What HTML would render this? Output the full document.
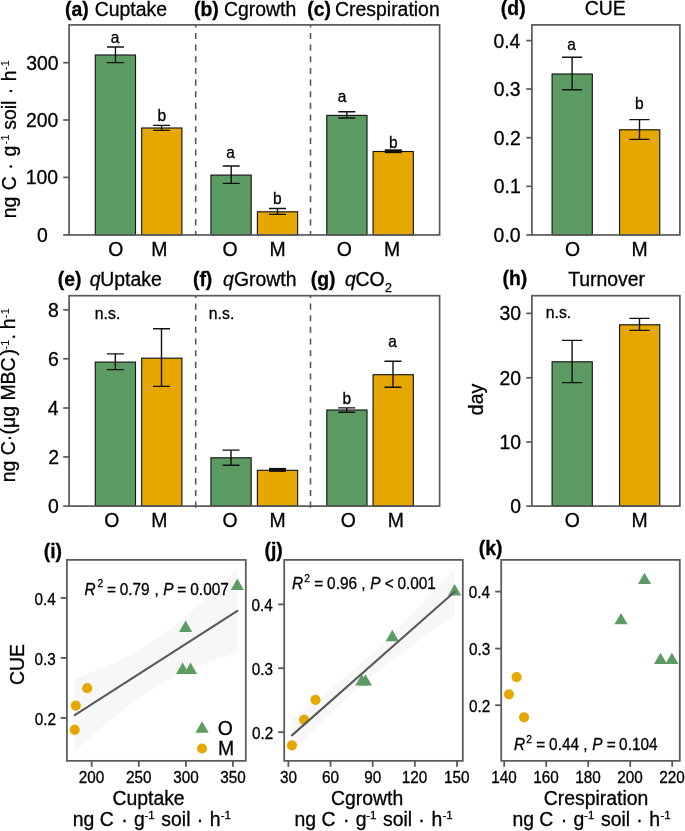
<!DOCTYPE html>
<html><head><meta charset="utf-8"><title>Figure</title><style>
html,body{margin:0;padding:0;background:#fff;width:685px;height:831px;overflow:hidden}
svg{display:block;will-change:transform}
text{font-family:"Liberation Sans",sans-serif}
</style></head><body>
<svg width="685" height="831" viewBox="0 0 685 831">
<rect width="685" height="831" fill="#fff"/>
<rect x="95.30" y="55.00" width="40.20" height="179.95" fill="#5c9c63" stroke="#151515" stroke-width="1.15"/>
<rect x="141.70" y="128.00" width="40.20" height="106.95" fill="#e6a800" stroke="#151515" stroke-width="1.15"/>
<rect x="210.95" y="175.10" width="40.20" height="59.85" fill="#5c9c63" stroke="#151515" stroke-width="1.15"/>
<rect x="257.40" y="211.80" width="40.20" height="23.15" fill="#e6a800" stroke="#151515" stroke-width="1.15"/>
<rect x="326.80" y="115.40" width="40.20" height="119.55" fill="#5c9c63" stroke="#151515" stroke-width="1.15"/>
<rect x="373.10" y="151.50" width="40.20" height="83.45" fill="#e6a800" stroke="#151515" stroke-width="1.15"/>
<path d="M106.95,47.00H123.95M115.45,47.00V62.60M106.95,62.60H123.95" stroke="#111" stroke-width="1.4" fill="none"/>
<path d="M153.10,125.40H170.10M161.60,125.40V130.40M153.10,130.40H170.10" stroke="#111" stroke-width="1.4" fill="none"/>
<path d="M222.70,166.00H239.70M231.20,166.00V183.40M222.70,183.40H239.70" stroke="#111" stroke-width="1.4" fill="none"/>
<path d="M269.00,208.50H286.00M277.50,208.50V214.40M269.00,214.40H286.00" stroke="#111" stroke-width="1.4" fill="none"/>
<path d="M338.30,111.80H355.30M346.80,111.80V118.00M338.30,118.00H355.30" stroke="#111" stroke-width="1.4" fill="none"/>
<rect x="384.80" y="149.30" width="17.00" height="3.90" fill="#111"/>
<line x1="195.70" y1="24.90" x2="195.70" y2="234.95" stroke="#595959" stroke-width="1.6" stroke-dasharray="6.1,5.55" stroke-dashoffset="3.60"/>
<line x1="310.50" y1="24.90" x2="310.50" y2="234.95" stroke="#595959" stroke-width="1.6" stroke-dasharray="6.1,5.55" stroke-dashoffset="3.60"/>
<rect x="69.10" y="24.90" width="370.50" height="210.05" fill="none" stroke="#595959" stroke-width="1.7"/>
<line x1="63.20" y1="234.95" x2="69.10" y2="234.95" stroke="#595959" stroke-width="1.7" />
<text transform="translate(36.91,241.95) scale(1,1.03)" font-size="19.4" font-weight="normal" font-style="normal" fill="#000" stroke="#000" stroke-width="0.3">0</text>
<line x1="63.20" y1="177.40" x2="69.10" y2="177.40" stroke="#595959" stroke-width="1.7" />
<text transform="translate(25.76,184.40) scale(1,1.03)" font-size="19.4" font-weight="normal" font-style="normal" fill="#000" stroke="#000" stroke-width="0.3">100</text>
<line x1="63.20" y1="120.00" x2="69.10" y2="120.00" stroke="#595959" stroke-width="1.7" />
<text transform="translate(26.01,127.00) scale(1,1.03)" font-size="19.4" font-weight="normal" font-style="normal" fill="#000" stroke="#000" stroke-width="0.3">200</text>
<line x1="63.20" y1="62.70" x2="69.10" y2="62.70" stroke="#595959" stroke-width="1.7" />
<text transform="translate(26.13,69.70) scale(1,1.03)" font-size="19.4" font-weight="normal" font-style="normal" fill="#000" stroke="#000" stroke-width="0.3">300</text>
<text transform="translate(110.76,42.50) scale(1,1.03)" font-size="15.5" font-weight="normal" font-style="normal" fill="#000" stroke="#000" stroke-width="0.3">a</text>
<text transform="translate(157.52,120.80) scale(1,1.03)" font-size="15.5" font-weight="normal" font-style="normal" fill="#000" stroke="#000" stroke-width="0.3">b</text>
<text transform="translate(226.26,158.00) scale(1,1.03)" font-size="15.5" font-weight="normal" font-style="normal" fill="#000" stroke="#000" stroke-width="0.3">a</text>
<text transform="translate(273.12,204.40) scale(1,1.03)" font-size="15.5" font-weight="normal" font-style="normal" fill="#000" stroke="#000" stroke-width="0.3">b</text>
<text transform="translate(337.76,101.70) scale(1,1.03)" font-size="15.5" font-weight="normal" font-style="normal" fill="#000" stroke="#000" stroke-width="0.3">a</text>
<text transform="translate(389.02,147.80) scale(1,1.03)" font-size="15.5" font-weight="normal" font-style="normal" fill="#000" stroke="#000" stroke-width="0.3">b</text>
<text transform="translate(108.26,255.80) scale(1,1.03)" font-size="19.4" font-weight="normal" font-style="normal" fill="#000" stroke="#000" stroke-width="0.3">O</text>
<text transform="translate(151.22,255.80) scale(1,1.03)" font-size="19.4" font-weight="normal" font-style="normal" fill="#000" stroke="#000" stroke-width="0.3">M</text>
<text transform="translate(222.46,255.80) scale(1,1.03)" font-size="19.4" font-weight="normal" font-style="normal" fill="#000" stroke="#000" stroke-width="0.3">O</text>
<text transform="translate(269.42,255.80) scale(1,1.03)" font-size="19.4" font-weight="normal" font-style="normal" fill="#000" stroke="#000" stroke-width="0.3">M</text>
<text transform="translate(336.76,255.80) scale(1,1.03)" font-size="19.4" font-weight="normal" font-style="normal" fill="#000" stroke="#000" stroke-width="0.3">O</text>
<text transform="translate(384.02,255.80) scale(1,1.03)" font-size="19.4" font-weight="normal" font-style="normal" fill="#000" stroke="#000" stroke-width="0.3">M</text>
<text transform="translate(64.93,16.00) scale(1,1.03)" font-size="19.4" font-weight="bold" font-style="normal" fill="#000" stroke="#000" stroke-width="0.3">(a)</text>
<text transform="translate(94.71,16.00) scale(1,1.03)" font-size="19.4" font-weight="normal" font-style="normal" fill="#000" stroke="#000" stroke-width="0.3">Cuptake</text>
<text transform="translate(193.93,16.00) scale(1,1.03)" font-size="19.4" font-weight="bold" font-style="normal" fill="#000" stroke="#000" stroke-width="0.3">(b)</text>
<text transform="translate(224.01,16.00) scale(1,1.03)" font-size="19.4" font-weight="normal" font-style="normal" fill="#000" stroke="#000" stroke-width="0.3">Cgrowth</text>
<text transform="translate(307.33,16.00) scale(1,1.03)" font-size="19.4" font-weight="bold" font-style="normal" fill="#000" stroke="#000" stroke-width="0.3">(c)</text>
<text transform="translate(335.11,16.00) scale(1,1.03)" font-size="19.4" font-weight="normal" font-style="normal" fill="#000" stroke="#000" stroke-width="0.3">Crespiration</text>
<rect x="552.10" y="74.00" width="40.20" height="160.95" fill="#5c9c63" stroke="#151515" stroke-width="1.15"/>
<rect x="619.55" y="129.80" width="40.20" height="105.15" fill="#e6a800" stroke="#151515" stroke-width="1.15"/>
<path d="M562.00,57.20H582.20M572.10,57.20V89.70M562.00,89.70H582.20" stroke="#111" stroke-width="1.4" fill="none"/>
<path d="M629.40,119.60H649.60M639.50,119.60V139.40M629.40,139.40H649.60" stroke="#111" stroke-width="1.4" fill="none"/>
<rect x="531.90" y="24.90" width="148.00" height="210.05" fill="none" stroke="#595959" stroke-width="1.7"/>
<line x1="526.30" y1="234.95" x2="531.90" y2="234.95" stroke="#595959" stroke-width="1.7" />
<text transform="translate(493.59,241.95) scale(1,1.03)" font-size="19.4" font-weight="normal" font-style="normal" fill="#000" stroke="#000" stroke-width="0.3">0.0</text>
<line x1="526.30" y1="186.30" x2="531.90" y2="186.30" stroke="#595959" stroke-width="1.7" />
<text transform="translate(493.78,193.30) scale(1,1.03)" font-size="19.4" font-weight="normal" font-style="normal" fill="#000" stroke="#000" stroke-width="0.3">0.1</text>
<line x1="526.30" y1="137.70" x2="531.90" y2="137.70" stroke="#595959" stroke-width="1.7" />
<text transform="translate(493.81,144.70) scale(1,1.03)" font-size="19.4" font-weight="normal" font-style="normal" fill="#000" stroke="#000" stroke-width="0.3">0.2</text>
<line x1="526.30" y1="89.00" x2="531.90" y2="89.00" stroke="#595959" stroke-width="1.7" />
<text transform="translate(493.68,96.00) scale(1,1.03)" font-size="19.4" font-weight="normal" font-style="normal" fill="#000" stroke="#000" stroke-width="0.3">0.3</text>
<line x1="526.30" y1="40.60" x2="531.90" y2="40.60" stroke="#595959" stroke-width="1.7" />
<text transform="translate(493.40,47.60) scale(1,1.03)" font-size="19.4" font-weight="normal" font-style="normal" fill="#000" stroke="#000" stroke-width="0.3">0.4</text>
<text transform="translate(567.36,50.20) scale(1,1.03)" font-size="15.5" font-weight="normal" font-style="normal" fill="#000" stroke="#000" stroke-width="0.3">a</text>
<text transform="translate(635.02,108.60) scale(1,1.03)" font-size="15.5" font-weight="normal" font-style="normal" fill="#000" stroke="#000" stroke-width="0.3">b</text>
<text transform="translate(564.96,255.60) scale(1,1.03)" font-size="19.4" font-weight="normal" font-style="normal" fill="#000" stroke="#000" stroke-width="0.3">O</text>
<text transform="translate(631.42,255.60) scale(1,1.03)" font-size="19.4" font-weight="normal" font-style="normal" fill="#000" stroke="#000" stroke-width="0.3">M</text>
<text transform="translate(500.83,14.60) scale(1,1.03)" font-size="19.4" font-weight="bold" font-style="normal" fill="#000" stroke="#000" stroke-width="0.3">(d)</text>
<text transform="translate(584.81,14.90) scale(1,1.03)" font-size="19.4" font-weight="normal" font-style="normal" fill="#000" stroke="#000" stroke-width="0.3">CUE</text>
<rect x="95.30" y="362.10" width="40.20" height="144.00" fill="#5c9c63" stroke="#151515" stroke-width="1.15"/>
<rect x="141.70" y="358.20" width="40.20" height="147.90" fill="#e6a800" stroke="#151515" stroke-width="1.15"/>
<rect x="210.95" y="457.80" width="40.20" height="48.30" fill="#5c9c63" stroke="#151515" stroke-width="1.15"/>
<rect x="257.40" y="470.30" width="40.20" height="35.80" fill="#e6a800" stroke="#151515" stroke-width="1.15"/>
<rect x="326.80" y="410.00" width="40.20" height="96.10" fill="#5c9c63" stroke="#151515" stroke-width="1.15"/>
<rect x="373.10" y="374.70" width="40.20" height="131.40" fill="#e6a800" stroke="#151515" stroke-width="1.15"/>
<path d="M106.85,353.90H123.85M115.35,353.90V369.60M106.85,369.60H123.85" stroke="#111" stroke-width="1.4" fill="none"/>
<path d="M153.00,328.80H170.00M161.50,328.80V386.40M153.00,386.40H170.00" stroke="#111" stroke-width="1.4" fill="none"/>
<path d="M222.50,450.10H239.50M231.00,450.10V465.20M222.50,465.20H239.50" stroke="#111" stroke-width="1.4" fill="none"/>
<rect x="269.00" y="467.90" width="17.00" height="4.00" fill="#111"/>
<path d="M338.20,407.90H355.20M346.70,407.90V412.20M338.20,412.20H355.20" stroke="#111" stroke-width="1.4" fill="none"/>
<path d="M384.50,361.30H401.50M393.00,361.30V387.30M384.50,387.30H401.50" stroke="#111" stroke-width="1.4" fill="none"/>
<line x1="195.70" y1="295.70" x2="195.70" y2="508.70" stroke="#595959" stroke-width="1.6" stroke-dasharray="6.1,5.55" stroke-dashoffset="3.80"/>
<line x1="310.50" y1="295.70" x2="310.50" y2="508.70" stroke="#595959" stroke-width="1.6" stroke-dasharray="6.1,5.55" stroke-dashoffset="3.80"/>
<rect x="69.10" y="295.70" width="370.50" height="210.40" fill="none" stroke="#595959" stroke-width="1.7"/>
<line x1="63.20" y1="506.10" x2="69.10" y2="506.10" stroke="#595959" stroke-width="1.7" />
<text transform="translate(47.97,513.40) scale(1,1.03)" font-size="19.4" font-weight="normal" font-style="normal" fill="#000" stroke="#000" stroke-width="0.3">0</text>
<line x1="63.20" y1="456.90" x2="69.10" y2="456.90" stroke="#595959" stroke-width="1.7" />
<text transform="translate(48.19,464.20) scale(1,1.03)" font-size="19.4" font-weight="normal" font-style="normal" fill="#000" stroke="#000" stroke-width="0.3">2</text>
<line x1="63.20" y1="408.00" x2="69.10" y2="408.00" stroke="#595959" stroke-width="1.7" />
<text transform="translate(47.78,415.30) scale(1,1.03)" font-size="19.4" font-weight="normal" font-style="normal" fill="#000" stroke="#000" stroke-width="0.3">4</text>
<line x1="63.20" y1="358.80" x2="69.10" y2="358.80" stroke="#595959" stroke-width="1.7" />
<text transform="translate(48.06,366.10) scale(1,1.03)" font-size="19.4" font-weight="normal" font-style="normal" fill="#000" stroke="#000" stroke-width="0.3">6</text>
<line x1="63.20" y1="309.90" x2="69.10" y2="309.90" stroke="#595959" stroke-width="1.7" />
<text transform="translate(48.05,317.20) scale(1,1.03)" font-size="19.4" font-weight="normal" font-style="normal" fill="#000" stroke="#000" stroke-width="0.3">8</text>
<text transform="translate(342.62,403.80) scale(1,1.03)" font-size="15.5" font-weight="normal" font-style="normal" fill="#000" stroke="#000" stroke-width="0.3">b</text>
<text transform="translate(388.36,347.10) scale(1,1.03)" font-size="15.5" font-weight="normal" font-style="normal" fill="#000" stroke="#000" stroke-width="0.3">a</text>
<text transform="translate(94.85,318.70) scale(1,1.03)" font-size="15.8" font-weight="normal" font-style="normal" fill="#000" stroke="#000" stroke-width="0.3">n.s.</text>
<text transform="translate(208.85,318.60) scale(1,1.03)" font-size="15.8" font-weight="normal" font-style="normal" fill="#000" stroke="#000" stroke-width="0.3">n.s.</text>
<text transform="translate(104.26,526.70) scale(1,1.03)" font-size="19.4" font-weight="normal" font-style="normal" fill="#000" stroke="#000" stroke-width="0.3">O</text>
<text transform="translate(151.32,526.70) scale(1,1.03)" font-size="19.4" font-weight="normal" font-style="normal" fill="#000" stroke="#000" stroke-width="0.3">M</text>
<text transform="translate(222.46,526.70) scale(1,1.03)" font-size="19.4" font-weight="normal" font-style="normal" fill="#000" stroke="#000" stroke-width="0.3">O</text>
<text transform="translate(269.52,526.70) scale(1,1.03)" font-size="19.4" font-weight="normal" font-style="normal" fill="#000" stroke="#000" stroke-width="0.3">M</text>
<text transform="translate(340.76,526.70) scale(1,1.03)" font-size="19.4" font-weight="normal" font-style="normal" fill="#000" stroke="#000" stroke-width="0.3">O</text>
<text transform="translate(387.82,526.70) scale(1,1.03)" font-size="19.4" font-weight="normal" font-style="normal" fill="#000" stroke="#000" stroke-width="0.3">M</text>
<text transform="translate(57.73,286.20) scale(1,1.03)" font-size="19.4" font-weight="bold" font-style="normal" fill="#000" stroke="#000" stroke-width="0.3">(e)</text>
<text transform="translate(89.85,286.20) scale(1,1.03)" font-size="19.4" font-weight="normal" font-style="italic" fill="#000" stroke="#000" stroke-width="0.3">q</text>
<text transform="translate(100.30,286.20) scale(1,1.03)" font-size="19.4" font-weight="normal" font-style="normal" fill="#000" stroke="#000" stroke-width="0.3">Uptake</text>
<text transform="translate(192.93,286.20) scale(1,1.03)" font-size="19.4" font-weight="bold" font-style="normal" fill="#000" stroke="#000" stroke-width="0.3">(f)</text>
<text transform="translate(222.95,286.20) scale(1,1.03)" font-size="19.4" font-weight="normal" font-style="italic" fill="#000" stroke="#000" stroke-width="0.3">q</text>
<text transform="translate(234.02,286.20) scale(1,1.03)" font-size="19.4" font-weight="normal" font-style="normal" fill="#000" stroke="#000" stroke-width="0.3">Growth</text>
<text transform="translate(310.73,286.20) scale(1,1.03)" font-size="19.4" font-weight="bold" font-style="normal" fill="#000" stroke="#000" stroke-width="0.3">(g)</text>
<text transform="translate(344.95,286.20) scale(1,1.03)" font-size="19.4" font-weight="normal" font-style="italic" fill="#000" stroke="#000" stroke-width="0.3">q</text>
<text transform="translate(355.61,286.20) scale(1,1.03)" font-size="19.4" font-weight="normal" font-style="normal" fill="#000" stroke="#000" stroke-width="0.3">CO</text>
<text transform="translate(385.07,292.20) scale(1,1.03)" font-size="12.5" font-weight="normal" font-style="normal" fill="#000" stroke="#000" stroke-width="0.3">2</text>
<rect x="552.10" y="361.80" width="40.20" height="144.30" fill="#5c9c63" stroke="#151515" stroke-width="1.15"/>
<rect x="619.55" y="324.80" width="40.20" height="181.30" fill="#e6a800" stroke="#151515" stroke-width="1.15"/>
<path d="M562.00,340.40H582.20M572.10,340.40V382.60M562.00,382.60H582.20" stroke="#111" stroke-width="1.4" fill="none"/>
<path d="M629.40,318.40H649.60M639.50,318.40V330.40M629.40,330.40H649.60" stroke="#111" stroke-width="1.4" fill="none"/>
<rect x="531.90" y="295.70" width="148.00" height="210.40" fill="none" stroke="#595959" stroke-width="1.7"/>
<line x1="526.30" y1="506.10" x2="531.90" y2="506.10" stroke="#595959" stroke-width="1.7" />
<text transform="translate(510.27,513.10) scale(1,1.03)" font-size="19.4" font-weight="normal" font-style="normal" fill="#000" stroke="#000" stroke-width="0.3">0</text>
<line x1="526.30" y1="442.00" x2="531.90" y2="442.00" stroke="#595959" stroke-width="1.7" />
<text transform="translate(499.48,449.00) scale(1,1.03)" font-size="19.4" font-weight="normal" font-style="normal" fill="#000" stroke="#000" stroke-width="0.3">10</text>
<line x1="526.30" y1="377.80" x2="531.90" y2="377.80" stroke="#595959" stroke-width="1.7" />
<text transform="translate(499.48,384.80) scale(1,1.03)" font-size="19.4" font-weight="normal" font-style="normal" fill="#000" stroke="#000" stroke-width="0.3">20</text>
<line x1="526.30" y1="313.40" x2="531.90" y2="313.40" stroke="#595959" stroke-width="1.7" />
<text transform="translate(499.48,320.40) scale(1,1.03)" font-size="19.4" font-weight="normal" font-style="normal" fill="#000" stroke="#000" stroke-width="0.3">30</text>
<text transform="translate(545.75,317.80) scale(1,1.03)" font-size="15.8" font-weight="normal" font-style="normal" fill="#000" stroke="#000" stroke-width="0.3">n.s.</text>
<text transform="translate(564.76,526.70) scale(1,1.03)" font-size="19.4" font-weight="normal" font-style="normal" fill="#000" stroke="#000" stroke-width="0.3">O</text>
<text transform="translate(631.42,526.70) scale(1,1.03)" font-size="19.4" font-weight="normal" font-style="normal" fill="#000" stroke="#000" stroke-width="0.3">M</text>
<text transform="translate(502.53,284.80) scale(1,1.03)" font-size="19.4" font-weight="bold" font-style="normal" fill="#000" stroke="#000" stroke-width="0.3">(h)</text>
<text transform="translate(568.16,286.00) scale(1,1.03)" font-size="19.4" font-weight="normal" font-style="normal" fill="#000" stroke="#000" stroke-width="0.3">Turnover</text>
<text transform="translate(15.80,0) rotate(-90) translate(-218.29,0) scale(1,1.03)" font-size="19.4" font-weight="normal" font-style="normal" stroke="#000" stroke-width="0.3">ng</text>
<text transform="translate(15.80,0) rotate(-90) translate(-190.29,0) scale(1,1.03)" font-size="19.4" font-weight="normal" font-style="normal" stroke="#000" stroke-width="0.3">C</text>
<text transform="translate(15.80,0) rotate(-90) translate(-169.63,0) scale(1,1.03)" font-size="19.4" font-weight="normal" font-style="normal" stroke="#000" stroke-width="0.3">·</text>
<text transform="translate(15.80,0) rotate(-90) translate(-156.61,0) scale(1,1.03)" font-size="19.4" font-weight="normal" font-style="normal" stroke="#000" stroke-width="0.3">g</text>
<text transform="translate(9.20,0) rotate(-90)" font-size="11.5" x="-144.60">-1</text>
<text transform="translate(15.80,0) rotate(-90) translate(-129.74,0) scale(1,1.03)" font-size="19.4" font-weight="normal" font-style="normal" stroke="#000" stroke-width="0.3">soil</text>
<text transform="translate(15.80,0) rotate(-90) translate(-94.23,0) scale(1,1.03)" font-size="19.4" font-weight="normal" font-style="normal" stroke="#000" stroke-width="0.3">·</text>
<text transform="translate(15.80,0) rotate(-90) translate(-81.25,0) scale(1,1.03)" font-size="19.4" font-weight="normal" font-style="normal" stroke="#000" stroke-width="0.3">h</text>
<text transform="translate(9.20,0) rotate(-90)" font-size="11.5" x="-70.30">-1</text>
<text transform="translate(15.20,0) rotate(-90) translate(-482.29,0) scale(1,1.03)" font-size="19.4" font-weight="normal" font-style="normal" stroke="#000" stroke-width="0.3">ng C</text>
<text transform="translate(15.20,0) rotate(-90) translate(-441.13,0) scale(1,1.03)" font-size="19.4" font-weight="normal" font-style="normal" stroke="#000" stroke-width="0.3">·</text>
<text transform="translate(15.20,0) rotate(-90) translate(-434.40,0) scale(1,1.03)" font-size="19.4" font-weight="normal" font-style="normal" stroke="#000" stroke-width="0.3">(μg MBC</text>
<text transform="translate(15.20,0) rotate(-90) translate(-355.51,0) scale(1,1.03)" font-size="19.4" font-weight="normal" font-style="normal" stroke="#000" stroke-width="0.3">)</text>
<text transform="translate(8.60,0) rotate(-90)" font-size="11.5" x="-349.80">-1</text>
<text transform="translate(15.20,0) rotate(-90) translate(-339.59,0) scale(1,1.03)" font-size="19.4" font-weight="normal" font-style="normal" stroke="#000" stroke-width="0.3">.</text>
<text transform="translate(15.20,0) rotate(-90) translate(-329.25,0) scale(1,1.03)" font-size="19.4" font-weight="normal" font-style="normal" stroke="#000" stroke-width="0.3">h</text>
<text transform="translate(8.60,0) rotate(-90)" font-size="11.5" x="-318.30">-1</text>
<text transform="translate(483.40,0) rotate(-90) translate(-415.13,0) scale(1,1.03)" font-size="19.4" font-weight="normal" font-style="normal" stroke="#000" stroke-width="0.3">day</text>
<polygon points="74.70,678.55 78.87,677.08 83.04,675.57 87.22,674.03 91.39,672.45 95.56,670.83 99.73,669.16 103.90,667.44 108.07,665.65 112.25,663.81 116.42,661.89 120.59,659.90 124.76,657.82 128.93,655.65 133.11,653.39 137.28,651.03 141.45,648.57 145.62,646.00 149.79,643.33 153.96,640.54 158.14,637.65 162.31,634.66 166.48,631.56 170.65,628.38 174.82,625.10 178.99,621.74 183.17,618.31 187.34,614.80 191.51,611.23 195.68,607.60 199.85,603.92 204.03,600.19 208.20,596.42 212.37,592.61 216.54,588.76 220.71,584.88 224.88,580.97 229.06,577.03 233.23,573.07 237.40,569.09 237.40,652.47 233.23,653.84 229.06,655.24 224.88,656.65 220.71,658.10 216.54,659.57 212.37,661.07 208.20,662.61 204.03,664.19 199.85,665.81 195.68,667.48 191.51,669.20 187.34,670.99 183.17,672.83 178.99,674.75 174.82,676.74 170.65,678.82 166.48,680.98 162.31,683.24 158.14,685.60 153.96,688.06 149.79,690.63 145.62,693.30 141.45,696.09 137.28,698.98 133.11,701.97 128.93,705.06 124.76,708.25 120.59,711.52 116.42,714.88 112.25,718.32 108.07,721.82 103.90,725.39 99.73,729.02 95.56,732.70 91.39,736.43 87.22,740.20 83.04,744.01 78.87,747.86 74.70,751.74" fill="#f7f7f7"/>
<polygon points="237.40,578.50 243.98,589.90 230.82,589.90" fill="#5c9c63"/>
<polygon points="185.60,620.60 192.18,632.00 179.02,632.00" fill="#5c9c63"/>
<polygon points="182.60,662.60 189.18,674.00 176.02,674.00" fill="#5c9c63"/>
<polygon points="190.50,662.60 197.08,674.00 183.92,674.00" fill="#5c9c63"/>
<circle cx="87.20" cy="688.20" r="5.1" fill="#e6a800"/>
<circle cx="75.80" cy="705.60" r="5.1" fill="#e6a800"/>
<circle cx="74.70" cy="729.80" r="5.1" fill="#e6a800"/>
<line x1="74.70" y1="715.14" x2="237.40" y2="610.78" stroke="#5a5a5a" stroke-width="2.1" stroke-linecap="round"/>
<rect x="66.90" y="559.90" width="178.90" height="200.95" fill="none" stroke="#595959" stroke-width="1.75"/>
<line x1="60.70" y1="597.90" x2="66.90" y2="597.90" stroke="#595959" stroke-width="1.8" />
<text transform="translate(34.38,604.70) scale(1,1.03)" font-size="15.3" font-weight="normal" font-style="normal" fill="#000" stroke="#000" stroke-width="0.3">0.4</text>
<line x1="60.70" y1="657.90" x2="66.90" y2="657.90" stroke="#595959" stroke-width="1.8" />
<text transform="translate(34.60,664.70) scale(1,1.03)" font-size="15.3" font-weight="normal" font-style="normal" fill="#000" stroke="#000" stroke-width="0.3">0.3</text>
<line x1="60.70" y1="717.90" x2="66.90" y2="717.90" stroke="#595959" stroke-width="1.8" />
<text transform="translate(34.70,724.70) scale(1,1.03)" font-size="15.3" font-weight="normal" font-style="normal" fill="#000" stroke="#000" stroke-width="0.3">0.2</text>
<line x1="91.70" y1="760.85" x2="91.70" y2="766.80" stroke="#595959" stroke-width="1.8" />
<text transform="translate(78.85,782.70) scale(1,1.03)" font-size="15.3" font-weight="normal" font-style="normal" fill="#000" stroke="#000" stroke-width="0.3">200</text>
<line x1="138.80" y1="760.85" x2="138.80" y2="766.80" stroke="#595959" stroke-width="1.8" />
<text transform="translate(125.95,782.70) scale(1,1.03)" font-size="15.3" font-weight="normal" font-style="normal" fill="#000" stroke="#000" stroke-width="0.3">250</text>
<line x1="185.90" y1="760.85" x2="185.90" y2="766.80" stroke="#595959" stroke-width="1.8" />
<text transform="translate(173.14,782.70) scale(1,1.03)" font-size="15.3" font-weight="normal" font-style="normal" fill="#000" stroke="#000" stroke-width="0.3">300</text>
<line x1="232.90" y1="760.85" x2="232.90" y2="766.80" stroke="#595959" stroke-width="1.8" />
<text transform="translate(220.14,782.70) scale(1,1.03)" font-size="15.3" font-weight="normal" font-style="normal" fill="#000" stroke="#000" stroke-width="0.3">350</text>
<text transform="translate(84.53,594.60) scale(1,1.03)" font-size="15.4" font-weight="normal" font-style="italic" fill="#000" stroke="#000" stroke-width="0.3">R</text>
<text transform="translate(97.39,586.80) scale(1,1.0)" font-size="10.2" font-weight="normal" font-style="normal" fill="#000" stroke="#000" stroke-width="0.3">2</text>
<text transform="translate(107.05,594.60) scale(1,1.03)" font-size="15.4" font-weight="normal" font-style="normal" fill="#000" stroke="#000" stroke-width="0.3">=</text>
<text transform="translate(119.70,594.60) scale(1,1.03)" font-size="15.4" font-weight="normal" font-style="normal" fill="#000" stroke="#000" stroke-width="0.3">0.79</text>
<text transform="translate(154.42,594.60) scale(1,1.03)" font-size="15.4" font-weight="normal" font-style="normal" fill="#000" stroke="#000" stroke-width="0.3">,</text>
<text transform="translate(163.33,594.60) scale(1,1.03)" font-size="15.4" font-weight="normal" font-style="italic" fill="#000" stroke="#000" stroke-width="0.3">P</text>
<text transform="translate(177.25,594.60) scale(1,1.03)" font-size="15.4" font-weight="normal" font-style="normal" fill="#000" stroke="#000" stroke-width="0.3">=</text>
<text transform="translate(190.30,594.60) scale(1,1.03)" font-size="15.4" font-weight="normal" font-style="normal" fill="#000" stroke="#000" stroke-width="0.3">0.007</text>
<polygon points="202.05,721.20 208.72,732.75 195.38,732.75" fill="#5c9c63"/>
<circle cx="202.05" cy="748.50" r="5.1" fill="#e6a800"/>
<text transform="translate(217.68,735.20) scale(1,1.03)" font-size="19.4" font-weight="normal" font-style="normal" fill="#000" stroke="#000" stroke-width="0.3">O</text>
<text transform="translate(218.01,755.00) scale(1,1.03)" font-size="19.4" font-weight="normal" font-style="normal" fill="#000" stroke="#000" stroke-width="0.3">M</text>
<text transform="translate(43.73,557.80) scale(1,1.03)" font-size="19.4" font-weight="bold" font-style="normal" fill="#000" stroke="#000" stroke-width="0.3">(i)</text>
<text transform="translate(24.00,0) rotate(-90) translate(-684.89,0) scale(1,1.03)" font-size="19.4" font-weight="normal" font-style="normal" stroke="#000" stroke-width="0.3">CUE</text>
<polygon points="291.90,718.53 296.07,715.50 300.23,712.45 304.40,709.38 308.57,706.28 312.73,703.15 316.90,699.99 321.07,696.79 325.23,693.56 329.40,690.28 333.57,686.95 337.73,683.56 341.90,680.12 346.07,676.62 350.23,673.06 354.40,669.43 358.57,665.73 362.73,661.96 366.90,658.13 371.07,654.24 375.23,650.29 379.40,646.28 383.57,642.23 387.73,638.12 391.90,633.98 396.07,629.80 400.23,625.59 404.40,621.34 408.57,617.07 412.73,612.78 416.90,608.47 421.07,604.13 425.23,599.79 429.40,595.42 433.57,591.05 437.73,586.66 441.90,582.26 446.07,577.85 450.23,573.43 454.40,569.01 454.40,615.04 450.23,617.96 446.07,620.90 441.90,623.84 437.73,626.80 433.57,629.76 429.40,632.74 425.23,635.72 421.07,638.73 416.90,641.75 412.73,644.79 408.57,647.84 404.40,650.93 400.23,654.04 396.07,657.17 391.90,660.35 387.73,663.55 383.57,666.80 379.40,670.10 375.23,673.45 371.07,676.85 366.90,680.31 362.73,683.83 358.57,687.42 354.40,691.07 350.23,694.79 346.07,698.58 341.90,702.43 337.73,706.34 333.57,710.31 329.40,714.33 325.23,718.40 321.07,722.52 316.90,726.68 312.73,730.87 308.57,735.09 304.40,739.35 300.23,743.62 296.07,747.92 291.90,752.24" fill="#f7f7f7"/>
<polygon points="454.60,584.00 461.18,595.40 448.02,595.40" fill="#5c9c63"/>
<polygon points="392.30,629.80 398.88,641.20 385.72,641.20" fill="#5c9c63"/>
<polygon points="361.80,674.20 368.38,685.60 355.22,685.60" fill="#5c9c63"/>
<polygon points="365.40,674.20 371.98,685.60 358.82,685.60" fill="#5c9c63"/>
<circle cx="315.50" cy="699.80" r="5.1" fill="#e6a800"/>
<circle cx="304.10" cy="719.80" r="5.1" fill="#e6a800"/>
<circle cx="291.90" cy="745.30" r="5.1" fill="#e6a800"/>
<line x1="291.90" y1="735.39" x2="454.40" y2="592.02" stroke="#5a5a5a" stroke-width="2.1" stroke-linecap="round"/>
<rect x="284.20" y="559.90" width="178.60" height="200.95" fill="none" stroke="#595959" stroke-width="1.75"/>
<line x1="278.20" y1="604.40" x2="284.20" y2="604.40" stroke="#595959" stroke-width="1.8" />
<text transform="translate(251.58,611.20) scale(1,1.03)" font-size="15.3" font-weight="normal" font-style="normal" fill="#000" stroke="#000" stroke-width="0.3">0.4</text>
<line x1="278.20" y1="668.20" x2="284.20" y2="668.20" stroke="#595959" stroke-width="1.8" />
<text transform="translate(251.80,675.00) scale(1,1.03)" font-size="15.3" font-weight="normal" font-style="normal" fill="#000" stroke="#000" stroke-width="0.3">0.3</text>
<line x1="278.20" y1="732.20" x2="284.20" y2="732.20" stroke="#595959" stroke-width="1.8" />
<text transform="translate(251.90,739.00) scale(1,1.03)" font-size="15.3" font-weight="normal" font-style="normal" fill="#000" stroke="#000" stroke-width="0.3">0.2</text>
<line x1="288.40" y1="760.85" x2="288.40" y2="766.80" stroke="#595959" stroke-width="1.8" />
<text transform="translate(279.90,782.70) scale(1,1.03)" font-size="15.3" font-weight="normal" font-style="normal" fill="#000" stroke="#000" stroke-width="0.3">30</text>
<line x1="330.55" y1="760.85" x2="330.55" y2="766.80" stroke="#595959" stroke-width="1.8" />
<text transform="translate(321.95,782.70) scale(1,1.03)" font-size="15.3" font-weight="normal" font-style="normal" fill="#000" stroke="#000" stroke-width="0.3">60</text>
<line x1="372.70" y1="760.85" x2="372.70" y2="766.80" stroke="#595959" stroke-width="1.8" />
<text transform="translate(364.13,782.70) scale(1,1.03)" font-size="15.3" font-weight="normal" font-style="normal" fill="#000" stroke="#000" stroke-width="0.3">90</text>
<line x1="414.85" y1="760.85" x2="414.85" y2="766.80" stroke="#595959" stroke-width="1.8" />
<text transform="translate(401.80,782.70) scale(1,1.03)" font-size="15.3" font-weight="normal" font-style="normal" fill="#000" stroke="#000" stroke-width="0.3">120</text>
<line x1="457.00" y1="760.85" x2="457.00" y2="766.80" stroke="#595959" stroke-width="1.8" />
<text transform="translate(443.95,782.70) scale(1,1.03)" font-size="15.3" font-weight="normal" font-style="normal" fill="#000" stroke="#000" stroke-width="0.3">150</text>
<text transform="translate(291.93,588.50) scale(1,1.03)" font-size="15.4" font-weight="normal" font-style="italic" fill="#000" stroke="#000" stroke-width="0.3">R</text>
<text transform="translate(304.19,582.00) scale(1,1.0)" font-size="10.2" font-weight="normal" font-style="normal" fill="#000" stroke="#000" stroke-width="0.3">2</text>
<text transform="translate(314.15,588.50) scale(1,1.03)" font-size="15.4" font-weight="normal" font-style="normal" fill="#000" stroke="#000" stroke-width="0.3">=</text>
<text transform="translate(327.10,588.50) scale(1,1.03)" font-size="15.4" font-weight="normal" font-style="normal" fill="#000" stroke="#000" stroke-width="0.3">0.96</text>
<text transform="translate(361.32,588.50) scale(1,1.03)" font-size="15.4" font-weight="normal" font-style="normal" fill="#000" stroke="#000" stroke-width="0.3">,</text>
<text transform="translate(370.33,588.50) scale(1,1.03)" font-size="15.4" font-weight="normal" font-style="italic" fill="#000" stroke="#000" stroke-width="0.3">P</text>
<text transform="translate(384.64,588.50) scale(1,1.03)" font-size="15.4" font-weight="normal" font-style="normal" fill="#000" stroke="#000" stroke-width="0.3">&lt;</text>
<text transform="translate(397.40,588.50) scale(1,1.03)" font-size="15.4" font-weight="normal" font-style="normal" fill="#000" stroke="#000" stroke-width="0.3">0.001</text>
<text transform="translate(264.43,557.30) scale(1,1.03)" font-size="19.4" font-weight="bold" font-style="normal" fill="#000" stroke="#000" stroke-width="0.3">(j)</text>
<polygon points="644.50,572.70 651.08,584.10 637.92,584.10" fill="#5c9c63"/>
<polygon points="621.00,612.90 627.58,624.30 614.42,624.30" fill="#5c9c63"/>
<polygon points="660.50,652.70 667.08,664.10 653.92,664.10" fill="#5c9c63"/>
<polygon points="671.90,652.70 678.48,664.10 665.32,664.10" fill="#5c9c63"/>
<circle cx="516.60" cy="677.10" r="5.1" fill="#e6a800"/>
<circle cx="508.90" cy="694.30" r="5.1" fill="#e6a800"/>
<circle cx="524.10" cy="717.30" r="5.1" fill="#e6a800"/>
<rect x="501.20" y="559.90" width="178.60" height="200.95" fill="none" stroke="#595959" stroke-width="1.75"/>
<line x1="495.20" y1="591.60" x2="501.20" y2="591.60" stroke="#595959" stroke-width="1.8" />
<text transform="translate(468.78,598.40) scale(1,1.03)" font-size="15.3" font-weight="normal" font-style="normal" fill="#000" stroke="#000" stroke-width="0.3">0.4</text>
<line x1="495.20" y1="648.60" x2="501.20" y2="648.60" stroke="#595959" stroke-width="1.8" />
<text transform="translate(469.00,655.40) scale(1,1.03)" font-size="15.3" font-weight="normal" font-style="normal" fill="#000" stroke="#000" stroke-width="0.3">0.3</text>
<line x1="495.20" y1="705.20" x2="501.20" y2="705.20" stroke="#595959" stroke-width="1.8" />
<text transform="translate(469.10,712.00) scale(1,1.03)" font-size="15.3" font-weight="normal" font-style="normal" fill="#000" stroke="#000" stroke-width="0.3">0.2</text>
<line x1="504.20" y1="760.85" x2="504.20" y2="766.80" stroke="#595959" stroke-width="1.8" />
<text transform="translate(491.15,782.70) scale(1,1.03)" font-size="15.3" font-weight="normal" font-style="normal" fill="#000" stroke="#000" stroke-width="0.3">140</text>
<line x1="546.20" y1="760.85" x2="546.20" y2="766.80" stroke="#595959" stroke-width="1.8" />
<text transform="translate(533.15,782.70) scale(1,1.03)" font-size="15.3" font-weight="normal" font-style="normal" fill="#000" stroke="#000" stroke-width="0.3">160</text>
<line x1="588.20" y1="760.85" x2="588.20" y2="766.80" stroke="#595959" stroke-width="1.8" />
<text transform="translate(575.15,782.70) scale(1,1.03)" font-size="15.3" font-weight="normal" font-style="normal" fill="#000" stroke="#000" stroke-width="0.3">180</text>
<line x1="630.20" y1="760.85" x2="630.20" y2="766.80" stroke="#595959" stroke-width="1.8" />
<text transform="translate(617.35,782.70) scale(1,1.03)" font-size="15.3" font-weight="normal" font-style="normal" fill="#000" stroke="#000" stroke-width="0.3">200</text>
<line x1="672.20" y1="760.85" x2="672.20" y2="766.80" stroke="#595959" stroke-width="1.8" />
<text transform="translate(659.35,782.70) scale(1,1.03)" font-size="15.3" font-weight="normal" font-style="normal" fill="#000" stroke="#000" stroke-width="0.3">220</text>
<text transform="translate(513.93,749.60) scale(1,1.03)" font-size="15.4" font-weight="normal" font-style="italic" fill="#000" stroke="#000" stroke-width="0.3">R</text>
<text transform="translate(526.19,743.00) scale(1,1.0)" font-size="10.2" font-weight="normal" font-style="normal" fill="#000" stroke="#000" stroke-width="0.3">2</text>
<text transform="translate(536.15,749.60) scale(1,1.03)" font-size="15.4" font-weight="normal" font-style="normal" fill="#000" stroke="#000" stroke-width="0.3">=</text>
<text transform="translate(549.10,749.60) scale(1,1.03)" font-size="15.4" font-weight="normal" font-style="normal" fill="#000" stroke="#000" stroke-width="0.3">0.44</text>
<text transform="translate(583.32,749.60) scale(1,1.03)" font-size="15.4" font-weight="normal" font-style="normal" fill="#000" stroke="#000" stroke-width="0.3">,</text>
<text transform="translate(592.33,749.60) scale(1,1.03)" font-size="15.4" font-weight="normal" font-style="italic" fill="#000" stroke="#000" stroke-width="0.3">P</text>
<text transform="translate(606.65,749.60) scale(1,1.03)" font-size="15.4" font-weight="normal" font-style="normal" fill="#000" stroke="#000" stroke-width="0.3">=</text>
<text transform="translate(619.10,749.60) scale(1,1.03)" font-size="15.4" font-weight="normal" font-style="normal" fill="#000" stroke="#000" stroke-width="0.3">0.104</text>
<text transform="translate(478.83,554.60) scale(1,1.03)" font-size="19.4" font-weight="bold" font-style="normal" fill="#000" stroke="#000" stroke-width="0.3">(k)</text>
<text transform="translate(112.41,805.00) scale(1,1.03)" font-size="19.4" font-weight="normal" font-style="normal" fill="#000" stroke="#000" stroke-width="0.3">Cuptake</text>
<text transform="translate(72.81,825.70) scale(1,1.03)" font-size="19.4" font-weight="normal" font-style="normal" fill="#000" stroke="#000" stroke-width="0.3">ng C</text>
<text transform="translate(121.27,825.70) scale(1,1.03)" font-size="19.4" font-weight="normal" font-style="normal" fill="#000" stroke="#000" stroke-width="0.3">·</text>
<text transform="translate(133.99,825.70) scale(1,1.03)" font-size="19.4" font-weight="normal" font-style="normal" fill="#000" stroke="#000" stroke-width="0.3">g</text>
<text transform="translate(144.49,819.20) scale(1,1.03)" font-size="11.5" font-weight="normal" font-style="normal" fill="#000" stroke="#000" stroke-width="0.3">-1</text>
<text transform="translate(161.36,825.70) scale(1,1.03)" font-size="19.4" font-weight="normal" font-style="normal" fill="#000" stroke="#000" stroke-width="0.3">soil</text>
<text transform="translate(196.67,825.70) scale(1,1.03)" font-size="19.4" font-weight="normal" font-style="normal" fill="#000" stroke="#000" stroke-width="0.3">·</text>
<text transform="translate(209.75,825.70) scale(1,1.03)" font-size="19.4" font-weight="normal" font-style="normal" fill="#000" stroke="#000" stroke-width="0.3">h</text>
<text transform="translate(220.79,819.20) scale(1,1.03)" font-size="11.5" font-weight="normal" font-style="normal" fill="#000" stroke="#000" stroke-width="0.3">-1</text>
<text transform="translate(331.01,805.00) scale(1,1.03)" font-size="19.4" font-weight="normal" font-style="normal" fill="#000" stroke="#000" stroke-width="0.3">Cgrowth</text>
<text transform="translate(294.51,825.70) scale(1,1.03)" font-size="19.4" font-weight="normal" font-style="normal" fill="#000" stroke="#000" stroke-width="0.3">ng C</text>
<text transform="translate(342.97,825.70) scale(1,1.03)" font-size="19.4" font-weight="normal" font-style="normal" fill="#000" stroke="#000" stroke-width="0.3">·</text>
<text transform="translate(355.69,825.70) scale(1,1.03)" font-size="19.4" font-weight="normal" font-style="normal" fill="#000" stroke="#000" stroke-width="0.3">g</text>
<text transform="translate(366.19,819.20) scale(1,1.03)" font-size="11.5" font-weight="normal" font-style="normal" fill="#000" stroke="#000" stroke-width="0.3">-1</text>
<text transform="translate(383.06,825.70) scale(1,1.03)" font-size="19.4" font-weight="normal" font-style="normal" fill="#000" stroke="#000" stroke-width="0.3">soil</text>
<text transform="translate(418.37,825.70) scale(1,1.03)" font-size="19.4" font-weight="normal" font-style="normal" fill="#000" stroke="#000" stroke-width="0.3">·</text>
<text transform="translate(431.45,825.70) scale(1,1.03)" font-size="19.4" font-weight="normal" font-style="normal" fill="#000" stroke="#000" stroke-width="0.3">h</text>
<text transform="translate(442.49,819.20) scale(1,1.03)" font-size="11.5" font-weight="normal" font-style="normal" fill="#000" stroke="#000" stroke-width="0.3">-1</text>
<text transform="translate(543.71,805.00) scale(1,1.03)" font-size="19.4" font-weight="normal" font-style="normal" fill="#000" stroke="#000" stroke-width="0.3">Crespiration</text>
<text transform="translate(512.41,825.70) scale(1,1.03)" font-size="19.4" font-weight="normal" font-style="normal" fill="#000" stroke="#000" stroke-width="0.3">ng C</text>
<text transform="translate(560.87,825.70) scale(1,1.03)" font-size="19.4" font-weight="normal" font-style="normal" fill="#000" stroke="#000" stroke-width="0.3">·</text>
<text transform="translate(573.59,825.70) scale(1,1.03)" font-size="19.4" font-weight="normal" font-style="normal" fill="#000" stroke="#000" stroke-width="0.3">g</text>
<text transform="translate(584.09,819.20) scale(1,1.03)" font-size="11.5" font-weight="normal" font-style="normal" fill="#000" stroke="#000" stroke-width="0.3">-1</text>
<text transform="translate(600.96,825.70) scale(1,1.03)" font-size="19.4" font-weight="normal" font-style="normal" fill="#000" stroke="#000" stroke-width="0.3">soil</text>
<text transform="translate(636.27,825.70) scale(1,1.03)" font-size="19.4" font-weight="normal" font-style="normal" fill="#000" stroke="#000" stroke-width="0.3">·</text>
<text transform="translate(649.35,825.70) scale(1,1.03)" font-size="19.4" font-weight="normal" font-style="normal" fill="#000" stroke="#000" stroke-width="0.3">h</text>
<text transform="translate(660.39,819.20) scale(1,1.03)" font-size="11.5" font-weight="normal" font-style="normal" fill="#000" stroke="#000" stroke-width="0.3">-1</text>
</svg>
</body></html>
